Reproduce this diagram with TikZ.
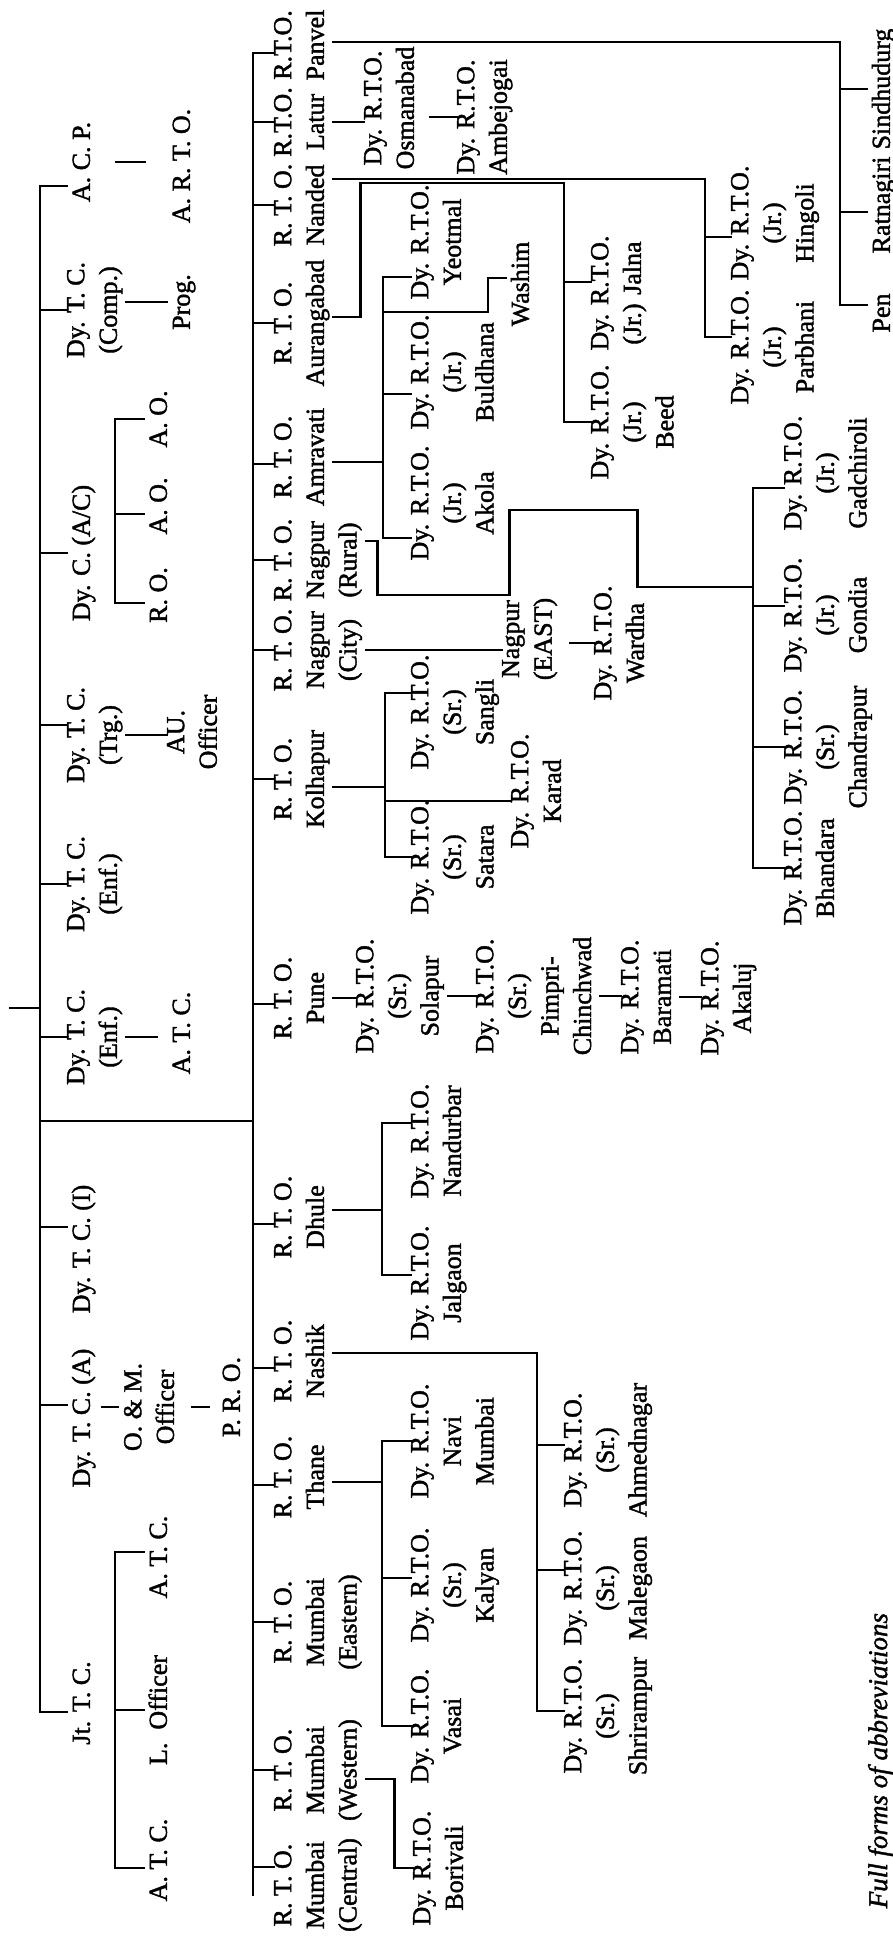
\documentclass[tikz,border=0pt]{standalone}
\usepackage{fontspec}
\setmainfont{Liberation Serif}[FakeBold=1.5]
\usetikzlibrary{calc}

\begin{document}
\begin{tikzpicture}[
  x=1pt, y=1pt,
  office/.style={rotate=90, anchor=north, inner sep=0pt, outer sep=0pt, align=center,
    font=\fontsize{26}{32.6}\selectfont, execute at begin node=\strut},
  caption/.style={office, anchor=north east, font=\fontsize{27}{33}\selectfont\itshape},
  link/.style={line width=2.9pt, line cap=rect},
  thinlink/.style={line width=1.6pt, line cap=rect}
]
\useasboundingbox (0,-1937) rectangle (893,0);

\node[office] (jtc) at (67,-1703) {Jt. T. C.};
\node[office] (dtca) at (67,-1418) {Dy. T. C. (A)};
\node[office] (dtci) at (67,-1249) {Dy. T. C. (I)};
\node[office] (enfa) at (67,-1037) {Dy. T. C.\\(Enf.)};
\node[office] (enfb) at (67,-884) {Dy. T. C.\\(Enf.)};
\node[office] (trg) at (67,-735) {Dy. T. C.\\(Trg.)};
\node[office] (dyac) at (67,-553) {Dy. C. (A/C)};
\node[office] (comp) at (67,-310) {Dy. T. C.\\(Comp.)};
\node[office] (acp) at (67,-162) {A. C. P.};

\node[office] (atcone) at (144,-1557) {A. T. C.};
\node[office] (lofficer) at (144,-1710) {L.\enspace Officer};
\node[office] (atctwo) at (144,-1860) {A. T. C.};
\node[office] (om) at (124,-1407) {O. \& M.\\Officer};
\node[office] (pro) at (217,-1397) {P. R. O.};
\node[office] (atcenf) at (167,-1033) {A. T. C.};
\node[office] (au) at (167,-732) {AU.\\Officer};
\node[office] (ro) at (144,-595) {R. O.};
\node[office] (aoone) at (144,-506) {A. O.};
\node[office] (aotwo) at (144,-419) {A. O.};
\node[office] (prog) at (167,-302) {Prog.};
\node[office] (arto) at (167,-166) {A. R. T. O.};

\node[office] (panvel) at (274,-45) {R.T.O.\\Panvel};
\node[office] (latur) at (274,-122) {R.T.O.\\Latur};
\node[office] (nanded) at (274,-205) {R. T. O.\\Nanded};
\node[office] (aurangabad) at (274,-323) {R. T. O.\\Aurangabad};
\node[office] (amravati) at (274,-457) {R. T. O.\\Amravati};
\node[office] (nagrural) at (274,-560) {R. T. O.\\Nagpur\\(Rural)};
\node[office] (nagcity) at (274,-650) {R. T. O.\\Nagpur\\(City)};
\node[office] (kolhapur) at (274,-779) {R. T. O.\\Kolhapur};
\node[office] (pune) at (274,-998) {R. T. O.\\Pune};
\node[office] (dhule) at (274,-1217) {R. T. O.\\Dhule};
\node[office] (nashik) at (274,-1361) {R. T. O.\\Nashik};
\node[office] (thane) at (274,-1477) {R. T. O.\\Thane};
\node[office] (mumeast) at (274,-1622) {R. T. O.\\Mumbai\\(Eastern)};
\node[office] (mumwest) at (274,-1770) {R. T. O.\\Mumbai\\(Western)};
\node[office] (mumcent) at (274,-1885) {R. T. O.\\Mumbai\\(Central)};

\node[office] (sindhudurg) at (867,-89) {Sindhudurg};
\node[office] (ratnagiri) at (867,-205) {Ratnagiri};
\node[office] (pen) at (867,-313) {Pen};
\node[office] (osmanabad) at (364,-108) {Dy. R.T.O.\\Osmanabad};
\node[office] (ambejogai) at (457,-117) {Dy. R.T.O.\\Ambejogai};
\node[office] (hingoli) at (731,-223) {Dy. R.T.O.\\(Jr.)\\Hingoli};
\node[office] (parbhani) at (731,-347) {Dy. R.T.O.\\(Jr.)\\Parbhani};
\node[office] (jalna) at (591,-293) {Dy. R.T.O.\\(Jr.) Jalna};
\node[office] (beed) at (591,-422) {Dy. R.T.O.\\(Jr.)\\Beed};
\node[office] (yeotmal) at (411,-242) {Dy. R.T.O.\\Yeotmal};
\node[office] (washim) at (506,-284) {Washim};
\node[office] (buldhana) at (411,-372) {Dy. R.T.O.\\(Jr.)\\Buldhana};
\node[office] (akola) at (411,-503) {Dy. R.T.O.\\(Jr.)\\Akola};
\node[office] (gadchiroli) at (784,-473) {Dy. R.T.O.\\(Jr.)\\Gadchiroli};
\node[office] (gondia) at (784,-615) {Dy. R.T.O.\\(Jr.)\\Gondia};
\node[office] (chandrapur) at (784,-747) {Dy. R.T.O.\\(Sr.)\\Chandrapur};
\node[office] (bhandara) at (784,-868) {Dy. R.T.O.\\Bhandara};
\node[office] (nageast) at (502,-639) {Nagpur\\(EAST)};
\node[office] (wardha) at (594,-643) {Dy. R.T.O.\\Wardha};
\node[office] (sangli) at (411,-712) {Dy. R.T.O.\\(Sr.)\\Sangli};
\node[office] (satara) at (411,-857) {Dy. R.T.O.\\(Sr.)\\Satara};
\node[office] (karad) at (511,-791) {Dy. R.T.O.\\Karad};
\node[office] (solapur) at (356,-996) {Dy. R.T.O.\\(Sr.)\\Solapur};
\node[office] (pimpri) at (476,-996) {Dy. R.T.O.\\(Sr.)\\Pimpri-\\Chinchwad};
\node[office] (baramati) at (621,-997) {Dy. R.T.O.\\Baramati};
\node[office] (akaluj) at (701,-998) {Dy. R.T.O.\\Akaluj};
\node[office] (nandurbar) at (411,-1141) {Dy. R.T.O.\\Nandurbar};
\node[office] (jalgaon) at (411,-1283) {Dy. R.T.O.\\Jalgaon};
\node[office] (ahmednagar) at (564,-1450) {Dy. R.T.O.\\(Sr.)\\Ahmednagar};
\node[office] (malegaon) at (564,-1588) {Dy. R.T.O.\\(Sr.)\\Malegaon};
\node[office] (shrirampur) at (564,-1716) {Dy. R.T.O.\\(Sr.)\\Shrirampur};
\node[office] (navimumbai) at (411,-1441) {Dy. R.T.O.\\Navi\\Mumbai};
\node[office] (kalyan) at (411,-1585) {Dy. R.T.O.\\(Sr.)\\Kalyan};
\node[office] (vasai) at (411,-1726) {Dy. R.T.O.\\Vasai};
\node[office] (borivali) at (413,-1868) {Dy. R.T.O.\\Borivali};

\node[caption] (fullforms) at (864,-1613) {Full forms of abbreviations};

\coordinate (root) at (10,-1008);
\coordinate (bus1) at (40,0);
\coordinate (bus2) at (253,0);
\coordinate (join) at (40,-1121);
\coordinate (bus2end) at (253,-1895);
\coordinate (jbus) at (115,0);
\coordinate (pbus) at (840,0);
\coordinate (nbus) at (705,0);
\coordinate (abus) at (564,-183);
\coordinate (ambus) at (383,0);
\coordinate (wbus) at (753,0);
\coordinate (kbus) at (385,0);
\coordinate (dbus) at (382,0);
\coordinate (nsbus) at (537,0);
\coordinate (tbus) at (382,0);

\draw[link] (root) -- (root -| bus1);
\draw[link] ($(jtc.north -| bus1)+(0,-9)$) -- ($(acp.north -| bus1)+(0,-24)$);
\draw[link] ($(jtc.north -| bus1)+(0,-9)$) -- ($(jtc.north)+(0,-9)$);
\draw[link] ($(dtca.north -| bus1)+(0,13)$) -- ($(dtca.north)+(0,13)$);
\draw[link] ($(dtci.north -| bus1)+(0,22)$) -- ($(dtci.north)+(0,22)$);
\draw[link] (enfa.north -| bus1) -- (enfa.north);
\draw[link] (enfb.north -| bus1) -- (enfb.north);
\draw[link] ($(trg.north -| bus1)+(0,10)$) -- ($(trg.north)+(0,10)$);
\draw[link] (dyac.north -| bus1) -- (dyac.north);
\draw[link] (comp.north -| bus1) -- (comp.north);
\draw[link] ($(acp.north -| bus1)+(0,-24)$) -- ($(acp.north)+(0,-24)$);
\draw[link] (join) -- (join -| bus2);

\draw[link] ($(atcone.north)+(0,5)$) -- ($(atcone.north -| jbus)+(0,5)$) -- ($(atctwo.north -| jbus)+(0,-8)$) -- ($(atctwo.north)+(0,-8)$);
\draw[link] (lofficer.north -| jbus) -- (lofficer.north);
\draw[link] (aotwo.north) -- (aotwo.north -| jbus) -- ($(ro.north -| jbus)+(0,-8)$) -- ($(ro.north)+(0,-8)$);
\draw[link] ($(aoone.north -| jbus)+(0,-8)$) -- ($(aoone.north)+(0,-8)$);
\draw[link, shorten <=3pt, shorten >=6pt] (om.north -| dtca.south) -- (om.north);
\draw[link, shorten <=9pt, shorten >=8pt] (om.south) -- (om.south -| pro.north);
\draw[link, shorten >=10pt] (enfa.south) -- (enfa.south -| atcenf.north);
\draw[link] (trg.south) -- (trg.south -| au.north);
\draw[link] (prog.north -| comp.south) -- (prog.north);
\draw[link, shorten <=17pt, shorten >=22pt] (acp.south) -- (acp.south -| arto.north);

\draw[link] ($(panvel.north -| bus2)+(0,-8)$) -- (bus2end);
\draw[link] ($(panvel.north -| bus2)+(0,-8)$) -- ($(panvel.north)+(0,-8)$);
\draw[link] (latur.north -| bus2) -- (latur.north);
\draw[link] (nanded.north -| bus2) -- (nanded.north);
\draw[link] (aurangabad.north -| bus2) -- (aurangabad.north);
\draw[link] ($(amravati.north -| bus2)+(0,-7)$) -- ($(amravati.north)+(0,-7)$);
\draw[link] (nagrural.north -| bus2) -- (nagrural.north);
\draw[link] (nagcity.north -| bus2) -- (nagcity.north);
\draw[link] (kolhapur.north -| bus2) -- (kolhapur.north);
\draw[link] ($(pune.north -| bus2)+(0,-6)$) -- ($(pune.north)+(0,-6)$);
\draw[link] ($(dhule.north -| bus2)+(0,-7)$) -- ($(dhule.north)+(0,-7)$);
\draw[link] ($(nashik.north -| bus2)+(0,-7)$) -- ($(nashik.north)+(0,-7)$);
\draw[link] ($(thane.north -| bus2)+(0,-8)$) -- ($(thane.north)+(0,-8)$);
\draw[link] (mumeast.north -| bus2) -- (mumeast.north);
\draw[link] (mumwest.north -| bus2) -- (mumwest.north);
\draw[link] ($(mumcent.north -| bus2)+(0,18)$) -- ($(mumcent.north)+(0,18)$);

\draw[link] ($(panvel.south)+(0,3)$) -| ($(pen.north -| pbus)+(0,8)$) -- ($(pen.north)+(0,8)$);
\draw[link] (sindhudurg.north -| pbus) -- (sindhudurg.north);
\draw[link] ($(ratnagiri.north -| pbus)+(0,-7)$) -- ($(ratnagiri.north)+(0,-7)$);

\draw[link] (latur.south) -- (latur.south -| osmanabad.north);
\draw[link, shorten >=7pt] (ambejogai.north) -- (ambejogai.north -| osmanabad.south);

\draw[link] ($(nanded.south)+(0,26)$) -| ($(parbhani.north -| nbus)+(0,10)$) -- ($(parbhani.north)+(0,10)$);
\draw[link] ($(hingoli.north -| nbus)+(0,-14)$) -- ($(hingoli.north)+(0,-14)$);

\draw[link] ($(aurangabad.south)+(0,6)$) -- ++(27,0) |- (abus) -- (beed.north -| abus) -- (beed.north);
\draw[link] ($(jalna.north -| abus)+(0,11)$) -- ($(jalna.north)+(0,11)$);

\draw[link] ($(amravati.south)+(0,-5)$) -- ($(amravati.south -| ambus)+(0,-5)$);
\draw[link] ($(yeotmal.north)+(0,-35)$) -- ($(yeotmal.north -| ambus)+(0,-35)$) -- ($(akola.north -| ambus)+(0,-35)$) -- ($(akola.north)+(0,-35)$);
\draw[link] ($(buldhana.north -| ambus)+(0,-22)$) -- ($(buldhana.north)+(0,-22)$);
\draw[link] ($(washim.north -| ambus)+(0,-28)$) -- ++(105,0) |- ($(washim.north)+(0,6)$);

\draw[link] ($(nagrural.south)+(0,19)$) -- ++(11,0) -- ++(0,-54) -- ++(132,0) -- ++(0,85) -- ++(128,0) -- ++(0,-77) coordinate (rurjoin) -- (rurjoin -| wbus);
\draw[link] ($(gadchiroli.north)+(0,-15)$) -- ($(gadchiroli.north -| wbus)+(0,-15)$) -- (bhandara.north -| wbus) -- (bhandara.north);
\draw[link] ($(gondia.north -| wbus)+(0,9)$) -- ($(gondia.north)+(0,9)$);
\draw[link] (chandrapur.north -| wbus) -- (chandrapur.north);

\draw[thinlink] (nagcity.south) -- (nagcity.south -| nageast.north);
\draw[link, shorten >=9pt] (wardha.north) -- (wardha.north -| nageast.south);

\draw[link] ($(kolhapur.south)+(0,-8)$) -- ($(kolhapur.south -| kbus)+(0,-8)$);
\draw[link] ($(sangli.north)+(0,19)$) -- ($(sangli.north -| kbus)+(0,19)$) -- (satara.north -| kbus) -- (satara.north);
\draw[link] ($(karad.north -| kbus)+(0,-10)$) -- ($(karad.north)+(0,-10)$);

\draw[link] (pune.south) -- (pune.south -| solapur.north);
\draw[link] (solapur.south) -- (solapur.south -| pimpri.north);
\draw[link] (pimpri.south) -- (pimpri.south -| baramati.north);
\draw[link] (baramati.south) -- (baramati.south -| akaluj.north);

\draw[link] ($(dhule.south)+(0,7)$) -- ($(dhule.south -| dbus)+(0,7)$);
\draw[link] ($(nandurbar.north)+(0,18)$) -- ($(nandurbar.north -| dbus)+(0,18)$) -- ($(jalgaon.north -| dbus)+(0,8)$) -- ($(jalgaon.north)+(0,8)$);

\draw[link] ($(nashik.south)+(0,8)$) -| ($(shrirampur.north -| nsbus)+(0,5)$) -- ($(shrirampur.north)+(0,5)$);
\draw[link] ($(ahmednagar.north -| nsbus)+(0,5)$) -- ($(ahmednagar.north)+(0,5)$);
\draw[link] ($(malegaon.north -| nsbus)+(0,18)$) -- ($(malegaon.north)+(0,18)$);

\draw[link] ($(thane.south)+(0,-5)$) -- ($(thane.south -| tbus)+(0,-5)$);
\draw[link] (navimumbai.north) -- (navimumbai.north -| tbus) -- (vasai.north -| tbus) -- (vasai.north);
\draw[link] ($(kalyan.north -| tbus)+(0,7)$) -- ($(kalyan.north)+(0,7)$);

\draw[link] ($(mumwest.south)+(0,-9)$) -- ++(28,0) |- (borivali.north);
\end{tikzpicture}
\end{document}
